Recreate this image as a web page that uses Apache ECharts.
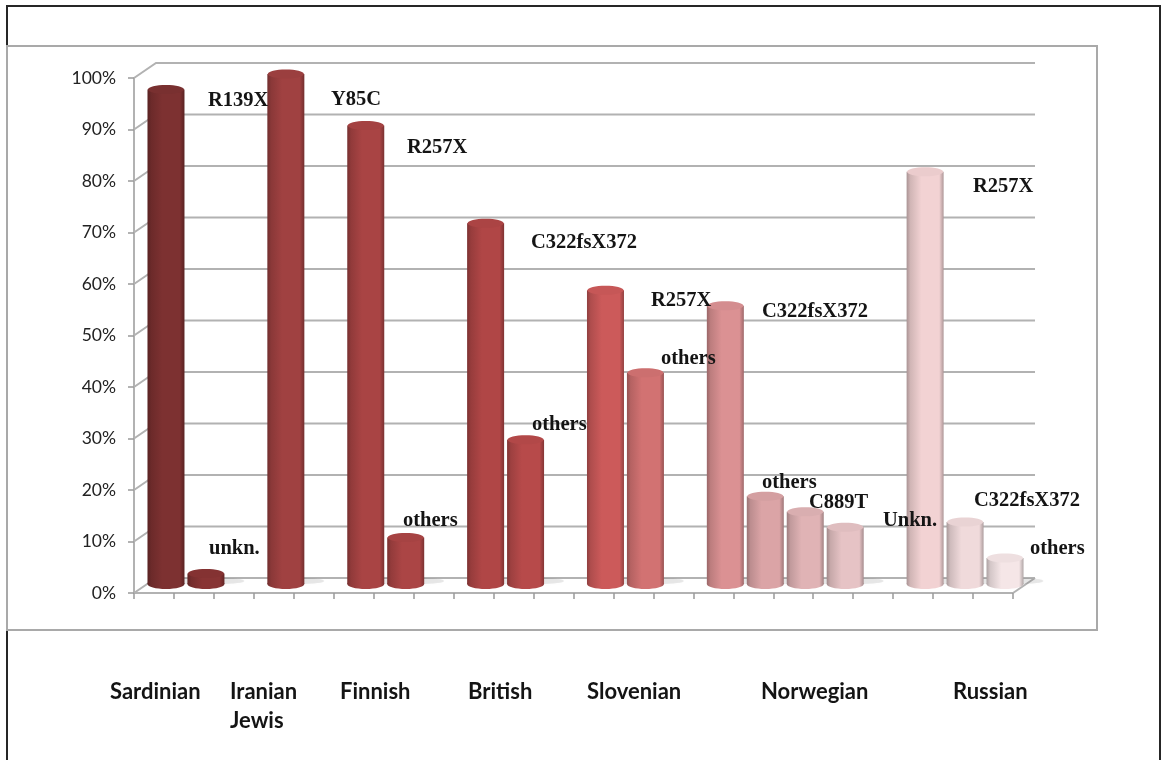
<!DOCTYPE html>
<html>
<head>
<meta charset="utf-8">
<title>Mutation frequencies by population</title>
<style>
html,body{margin:0;padding:0;background:#fff;}
#chart{width:1165px;height:760px;}
</style>
<script src="https://cdn.jsdelivr.net/npm/echarts@6/dist/echarts.min.js"></script>
</head>
<body>
<div id="chart"></div>
<script>
// Share of each mutation per population; slot index is the position on the 22-slot category axis.
var slots = ['s0','s1','s2','s3','s4','s5','s6','s7','s8','s9','s10','s11','s12','s13','s14','s15','s16','s17','s18','s19','s20','s21'];
var barSlots = [0, 1, 3, 5, 6, 8, 9, 11, 12, 14, 15, 16, 17, 19, 20, 21];
var barValues = [97, 3, 100, 90, 10, 71, 29, 58, 42, 55, 18, 15, 12, 81, 13, 6];
var barColors = ['#7d3131', '#883434', '#a04141', '#a94444', '#ab4545', '#b04646', '#b74a4a',
                 '#cc5a5a', '#d27272', '#db9193', '#dba4a6', '#e0b3b5', '#e6c3c5', '#f2d2d3', '#f0dadb', '#f5e6e7'];
var yTicks = [0, 10, 20, 30, 40, 50, 60, 70, 80, 90, 100];

var mutationNames = ['R139X', 'Y85C', 'R257X', 'others', 'unkn.', 'C322fsX372', 'others', 'R257X',
                     'others', 'C322fsX372', 'others', 'C889T', 'Unkn.', 'R257X', 'C322fsX372', 'others'];
var mutationX = [208, 331, 407, 403, 209, 531, 532, 651, 661, 762, 762, 809, 883, 973, 974, 1030];
var mutationY = [101, 100, 148, 521, 549, 243, 425, 301, 359, 312, 483, 503, 521, 187, 501, 549];

var populations = ['Sardinian', 'Iranian\nJewis', 'Finnish', 'British', 'Slovenian', 'Norwegian', 'Russian'];
var populationX = [110, 230, 340, 468, 587, 761, 953];

// Receding depth of the 3D-style plot box, and the cylinder proportions.
var DEPTH_X = 22, DEPTH_Y = -15;
var BAR_SHIFT_X = 12, TOP_SHIFT_Y = -4, BASE_SHIFT_Y = -9;
var BAR_RX = 18.5, BAR_RY = 5;
var GRID_COLOR = '#b2b2b2';

// Scales a hex colour towards black by the given fraction.
function darken(hex, k) {
  var n = parseInt(hex.slice(1), 16);
  var f = function (c) { return Math.round(c * (1 - k)); };
  return 'rgb(' + f(n >> 16) + ',' + f((n >> 8) & 255) + ',' + f(n & 255) + ')';
}

function renderWalls(params, api) {
  var v = api.value(0);
  var band = api.size([1, 0])[0];
  var left = api.coord([0, v]); left[0] -= band / 2;
  var right = api.coord([slots.length - 1, v]); right[0] += band / 2;
  var lineStyle = { stroke: GRID_COLOR, lineWidth: 2, fill: null };
  var children = [{
    type: 'polyline',
    shape: { points: [left, [left[0] + DEPTH_X, left[1] + DEPTH_Y], [right[0] + DEPTH_X, right[1] + DEPTH_Y]] },
    style: lineStyle
  }];
  if (v === 0) {
    children.push({
      type: 'line',
      shape: { x1: right[0], y1: right[1], x2: right[0] + DEPTH_X, y2: right[1] + DEPTH_Y },
      style: lineStyle
    });
  }
  return { type: 'group', children: children };
}

function renderCylinder(params, api) {
  var color = barColors[params.dataIndex];
  var top = api.coord([api.value(0), api.value(1)]);
  var base = api.coord([api.value(0), 0]);
  var cx = top[0] + BAR_SHIFT_X;
  var topY = top[1] + TOP_SHIFT_Y;
  var baseY = base[1] + BASE_SHIFT_Y;
  var body = new echarts.graphic.LinearGradient(0, 0, 1, 0, [
    { offset: 0, color: darken(color, 0.3) },
    { offset: 0.1, color: darken(color, 0.14) },
    { offset: 0.4, color: color },
    { offset: 0.88, color: color },
    { offset: 1, color: darken(color, 0.28) }
  ]);
  return {
    type: 'group',
    children: [
      { type: 'ellipse', shape: { cx: cx + 14, cy: baseY - 3, rx: BAR_RX + 6, ry: 3 },
        style: { fill: 'rgba(90,90,90,0.14)', shadowBlur: 4, shadowColor: 'rgba(90,90,90,0.15)' } },
      { type: 'ellipse', shape: { cx: cx, cy: baseY, rx: BAR_RX, ry: BAR_RY }, style: { fill: body } },
      { type: 'rect', shape: { x: cx - BAR_RX, y: topY, width: BAR_RX * 2, height: baseY - topY }, style: { fill: body } },
      { type: 'ellipse', shape: { cx: cx, cy: topY, rx: BAR_RX - 0.5, ry: BAR_RY - 0.5 },
        style: { fill: darken(color, 0.03) } }
    ]
  };
}

// Frames and free-placed text
var graphics = [
  { type: 'rect', z: -2, silent: true, shape: { x: 7, y: 6, width: 1153, height: 800 },
    style: { fill: '#fff', stroke: '#262626', lineWidth: 2 } },
  { type: 'rect', z: -1, silent: true, shape: { x: 7, y: 46, width: 1090, height: 584 },
    style: { fill: '#fff', stroke: '#a9a9a9', lineWidth: 2 } }
];
mutationNames.forEach(function (name, i) {
  graphics.push({
    type: 'text', z: 100, silent: true, x: mutationX[i], y: mutationY[i],
    style: { text: name, fill: '#141414', font: 'bold 20.5px "Liberation Serif"', textVerticalAlign: 'middle' }
  });
});
populations.forEach(function (name, i) {
  graphics.push({
    type: 'text', z: 100, silent: true, x: populationX[i], y: 677,
    style: { text: name, fill: '#141414', font: 'bold 22px Lato', lineHeight: 29 }
  });
});

var chart = echarts.init(document.getElementById('chart'), null, { renderer: 'canvas' });
chart.setOption({
  animation: false,
  backgroundColor: '#fff',
  graphic: { elements: graphics },
  grid: { left: 134, right: 152, top: 78, bottom: 167, containLabel: false },
  xAxis: {
    type: 'category',
    data: slots,
    axisLine: { lineStyle: { color: GRID_COLOR, width: 2 } },
    axisTick: { show: true, length: 6, lineStyle: { color: '#9a9a9a', width: 1.5 } },
    axisLabel: { show: false }
  },
  yAxis: {
    type: 'value',
    min: 0,
    max: 100,
    interval: 10,
    axisLine: { show: true, lineStyle: { color: GRID_COLOR, width: 2 } },
    axisTick: { show: true, length: 6, lineStyle: { color: '#9a9a9a', width: 1.5 } },
    splitLine: { show: false },
    axisLabel: { formatter: '{value}%', color: '#222', fontFamily: 'Lato', fontSize: 17.5, margin: 18, padding: [2, 0, 0, 0] }
  },
  series: [
    {
      type: 'custom',
      z: 1,
      silent: true,
      renderItem: renderWalls,
      encode: { y: 0 },
      data: yTicks.map(function (v) { return [v]; })
    },
    {
      type: 'custom',
      z: 2,
      silent: true,
      renderItem: renderCylinder,
      encode: { x: 0, y: 1 },
      data: barValues.map(function (v, i) { return [barSlots[i], v]; })
    }
  ]
});
</script>
</body>
</html>
